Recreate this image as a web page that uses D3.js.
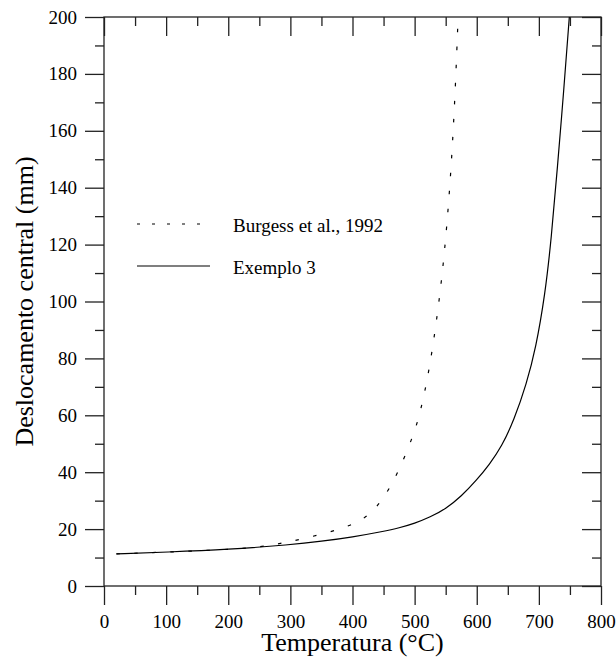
<!DOCTYPE html>
<html>
<head>
<meta charset="utf-8">
<script src="https://cdn.jsdelivr.net/npm/d3@7"></script>
<style>
  body { margin: 0; background: #fff; }
  svg text { font-family: "Liberation Serif", "Times New Roman", serif; fill: #000; }
</style>
</head>
<body>
<svg id="chart" width="616" height="662"></svg>
<script>
// Exemplo 3 (solid line)
const solidT = [20, 100, 200, 300, 350, 400, 450, 475, 500, 525, 550, 575, 600, 620, 640, 660, 680, 695, 710, 720, 730, 740, 749];
const solidD = [11.3, 11.9, 12.8, 14.5, 15.7, 17.2, 19.2, 20.4, 22.0, 24.2, 27.1, 31.5, 37.3, 42.6, 49.0, 58.3, 71, 83.5, 102.5, 122, 147.5, 174, 200];

// Burgess et al., 1992 (dashed line)
const burgT = [20, 100, 200, 256, 300, 350, 400, 425, 450, 475, 500, 510, 520, 530, 540, 548, 555, 561, 566, 570];
const burgD = [11.3, 11.9, 12.8, 13.8, 15.6, 18.1, 21.4, 24.5, 30.5, 40.5, 54, 62, 72, 85, 101, 117, 135, 155, 177, 200];

const xMajor = [0, 100, 200, 300, 400, 500, 600, 700, 800];
const xMinor = [50, 150, 250, 350, 450, 550, 650, 750];
const yMajor = [0, 20, 40, 60, 80, 100, 120, 140, 160, 180, 200];
const yMinor = [10, 30, 50, 70, 90, 110, 130, 150, 170, 190];

const legendNames = ["Burgess et al., 1992", "Exemplo 3"];

const svg = d3.select("#chart");
const mLeft = 104, mRight = 601, mTop = 17, mBottom = 586;
const serif = "'Liberation Serif', 'Times New Roman', serif";

const x = d3.scaleLinear().domain([0, 800]).range([mLeft, mRight]);
const y = d3.scaleLinear().domain([0, 200]).range([mBottom, mTop]);

const axisColor = "#222";
const major = 19, minor = 9;

function styleAxis(g) {
    g.attr("font-family", serif);
    g.select(".domain").remove();
    g.selectAll("line").attr("stroke", axisColor).attr("stroke-width", 1.3);
    g.selectAll("text")
        .style("font-family", serif)
        .style("font-size", "19px")
        .attr("fill", "#000");
}

// bottom axis (ticks outward)
svg.append("g").attr("transform", `translate(0,${mBottom})`)
    .call(d3.axisBottom(x).tickValues(xMajor).tickSize(major).tickFormat(d3.format("d")))
    .call(styleAxis)
    .call(g => g.selectAll("text").attr("y", 42).attr("dy", 0));
svg.append("g").attr("transform", `translate(0,${mBottom})`)
    .call(d3.axisBottom(x).tickValues(xMinor).tickSize(minor).tickFormat(""))
    .call(styleAxis);

// top axis (ticks inward)
svg.append("g").attr("transform", `translate(0,${mTop})`)
    .call(d3.axisBottom(x).tickValues(xMajor).tickSize(major).tickFormat(""))
    .call(styleAxis);
svg.append("g").attr("transform", `translate(0,${mTop})`)
    .call(d3.axisBottom(x).tickValues(xMinor).tickSize(minor).tickFormat(""))
    .call(styleAxis);

// left axis (ticks outward)
svg.append("g").attr("transform", `translate(${mLeft},0)`)
    .call(d3.axisLeft(y).tickValues(yMajor).tickSize(major).tickPadding(8).tickFormat(d3.format("d")))
    .call(styleAxis);
svg.append("g").attr("transform", `translate(${mLeft},0)`)
    .call(d3.axisLeft(y).tickValues(yMinor).tickSize(minor).tickFormat(""))
    .call(styleAxis);

// right axis (ticks inward)
svg.append("g").attr("transform", `translate(${mRight},0)`)
    .call(d3.axisLeft(y).tickValues(yMajor).tickSize(major).tickFormat(""))
    .call(styleAxis);
svg.append("g").attr("transform", `translate(${mRight},0)`)
    .call(d3.axisLeft(y).tickValues(yMinor).tickSize(minor).tickFormat(""))
    .call(styleAxis);

// frame
svg.append("rect")
    .attr("x", mLeft).attr("y", mTop)
    .attr("width", mRight - mLeft).attr("height", mBottom - mTop)
    .attr("fill", "none").attr("stroke", axisColor).attr("stroke-width", 1.3);

// curves (B-spline through the read points, smooth like the original plot)
const line = d3.line()
    .x(d => x(d[0]))
    .y(d => y(d[1]))
    .curve(d3.curveBasis);

svg.append("path")
    .datum(burgT.map((t, i) => [t, burgD[i]]))
    .attr("d", line)
    .attr("fill", "none").attr("stroke", "#000").attr("stroke-width", 1.2)
    .attr("stroke-dasharray", "3.5,14.5");

svg.append("path")
    .datum(solidT.map((t, i) => [t, solidD[i]]))
    .attr("d", line)
    .attr("fill", "none").attr("stroke", "#000").attr("stroke-width", 1.2);

// legend
const legend = svg.append("g");
legendNames.forEach((name, i) => {
    let ly = 224 + i * 42;
    legend.append("line")
        .attr("x1", 137).attr("x2", 210).attr("y1", ly).attr("y2", ly)
        .attr("stroke", "#000").attr("stroke-width", 1.2)
        .attr("stroke-dasharray", i == 0 ? "3,12" : null);
    legend.append("text")
        .attr("x", 233).attr("y", ly + 8)
        .style("font-family", serif)
        .style("font-size", "19px")
        .text(name);
});

// axis titles
svg.append("text")
    .attr("x", (mLeft + mRight) / 2).attr("y", 651)
    .attr("text-anchor", "middle")
    .style("font-family", serif)
    .style("font-size", "26px")
    .text("Temperatura (°C)");

svg.append("text")
    .attr("transform", `translate(33,${(mTop + mBottom) / 2}) rotate(-90)`)
    .attr("text-anchor", "middle")
    .style("font-family", serif)
    .style("font-size", "26px")
    .text("Deslocamento central (mm)");
</script>
</body>
</html>
